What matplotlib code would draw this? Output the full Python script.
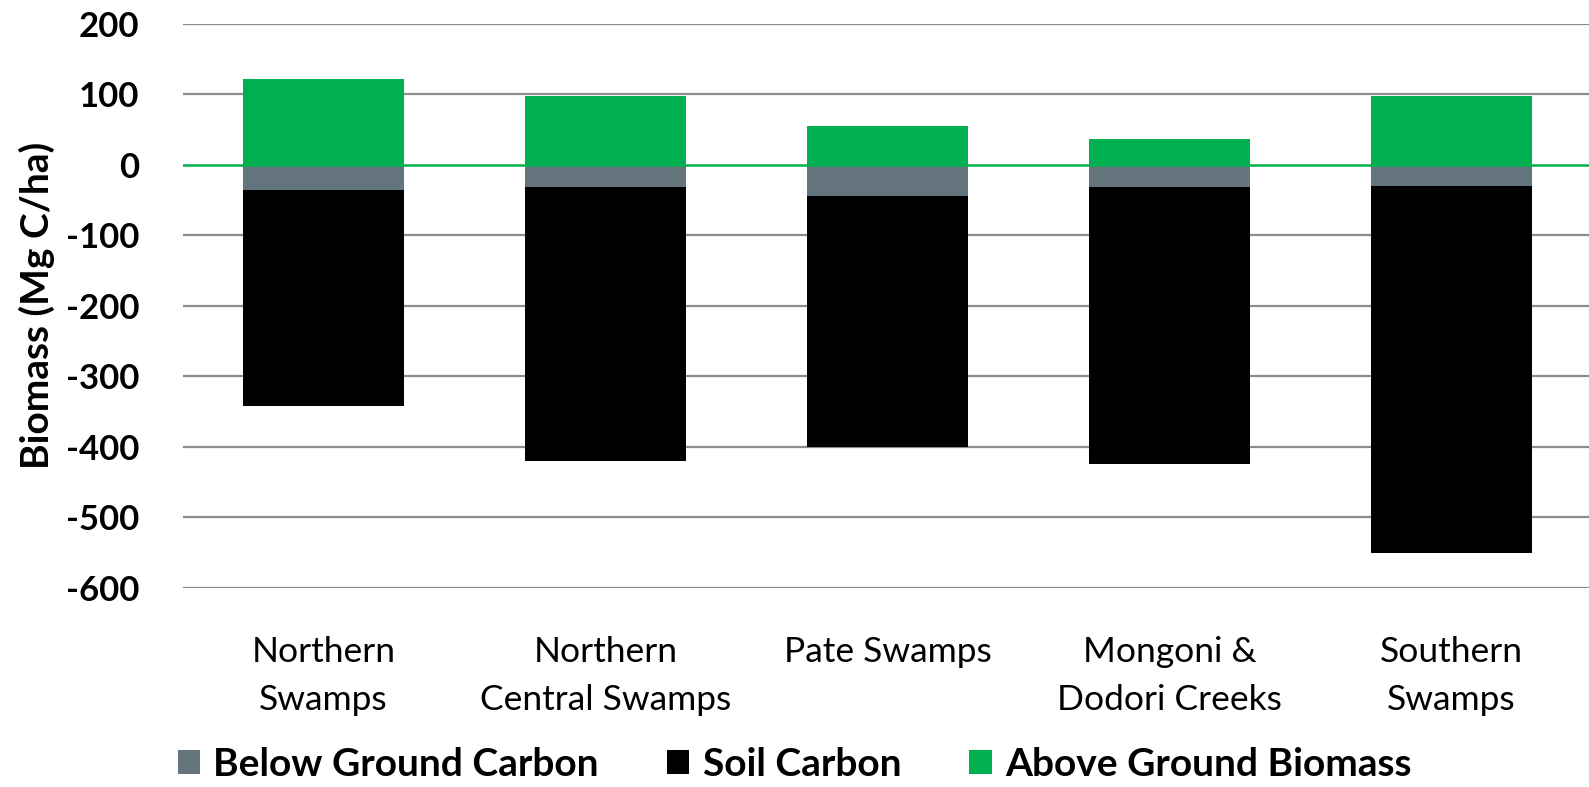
import matplotlib
matplotlib.use("Agg")
import matplotlib.pyplot as plt
import numpy as np

categories = ["Northern\nSwamps", "Northern\nCentral Swamps", "Pate Swamps",
              "Mongoni &\nDodori Creeks", "Southern\nSwamps"]
below_ground = [-36, -31, -45, -31, -30]
soil_carbon = [-306, -389, -355, -393, -521]
above_ground = [122, 98, 55, 37, 98]
yticks = [200, 100, 0, -100, -200, -300, -400, -500, -600]

plt.rcParams['font.family'] = ['Lato', 'DejaVu Sans']

W, H = 1589, 787
fig = plt.figure(figsize=(W / 100, H / 100), dpi=100)
left, right = 182.5, 1592.5
top, bottom = 23.7, 587.7
ax = fig.add_axes([left / W, 1 - bottom / H, (right - left) / W, (bottom - top) / H])

x = np.arange(len(categories))
bw = 0.571
c_grey = '#64747C'
c_black = '#000000'
c_green = '#00B050'

ax.bar(x, below_ground, bw, color=c_grey, label='Below Ground Carbon', zorder=3)
ax.bar(x, soil_carbon, bw, bottom=below_ground, color=c_black, label='Soil Carbon', zorder=3)
ax.bar(x, above_ground, bw, color=c_green, label='Above Ground Biomass', zorder=3)

ax.set_xlim(-0.5, len(categories) - 0.5)
ax.set_ylim(-600, 200)
ax.set_yticks(yticks)
ax.set_yticklabels([str(v) for v in yticks], fontsize=25, fontweight='bold')
ax.set_xticks(x)
ax.set_xticklabels(categories, fontsize=25.5, linespacing=1.62)
ax.tick_params(axis='y', length=0, pad=31)
ax.tick_params(axis='x', length=0, pad=35)
for v in yticks:
    if v != 0:
        ax.axhline(v, color='#8C8C8C', lw=1.6, zorder=1)
ax.axhline(0, color=c_green, lw=1.8, zorder=4)
for s in ax.spines.values():
    s.set_visible(False)

ax.set_ylabel('Biomass (Mg C/ha)', fontsize=28, fontweight='bold', labelpad=8)

fig.legend(loc='center', bbox_to_anchor=(0.5, 1 - 764 / H), ncol=3, frameon=False,
           prop={'size': 28, 'weight': 'bold'}, handlelength=0.58, handleheight=0.58,
           handletextpad=0.34, columnspacing=1.75, borderpad=0)

fig.savefig('out.png', dpi=100)
